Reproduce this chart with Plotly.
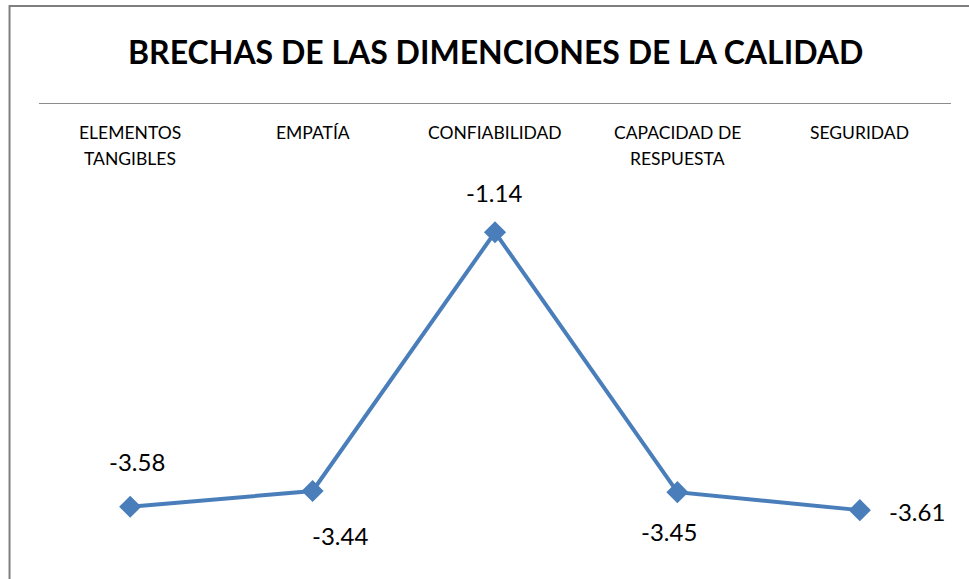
import plotly.graph_objects as go

categories = ["ELEMENTOS<br>TANGIBLES", "EMPATÍA", "CONFIABILIDAD", "CAPACIDAD DE<br>RESPUESTA", "SEGURIDAD"]
values = [-3.58, -3.44, -1.14, -3.45, -3.61]
title_text = "BRECHAS DE LAS DIMENCIONES DE LA CALIDAD"

# label placement (offsets in px) per point
label_dx = [7, 27, -1, -8, 57]
label_dy = [45, -44, 40, -39, -1]

FONT = "Lato"
BLUE = "#4A7EBB"

xs = list(range(len(categories)))

fig = go.Figure()
fig.add_trace(go.Scatter(
    x=xs, y=values, mode="lines+markers",
    line=dict(color=BLUE, width=4),
    marker=dict(symbol="diamond", size=17, color=BLUE),
    hoverinfo="skip", showlegend=False,
))

annotations = []
for i, v in enumerate(values):
    annotations.append(dict(
        x=xs[i], y=v, xref="x", yref="y", text=f"{v:.2f}",
        showarrow=False, xshift=label_dx[i], yshift=label_dy[i],
        font=dict(family=FONT, size=24, color="#000000"),
        xanchor="center", yanchor="middle",
    ))
for i, c in enumerate(categories):
    for j, line in enumerate(c.split("<br>")):
        annotations.append(dict(
            x=xs[i], y=0, xref="x", yref="y", text=line,
            showarrow=False, yshift=-28 - 26 * j, yanchor="middle", xanchor="center",
            font=dict(family=FONT, size=17.5, color="#000000"),
        ))
annotations.append(dict(
    x=0.5, y=(554 - 52) / 450, xref="paper", yref="paper", text=f"<b>{title_text}</b>",
    showarrow=False, yanchor="middle",
    font=dict(family=FONT, size=32, color="#000000"),
))

fig.update_layout(
    width=969, height=579,
    margin=dict(l=38.5, r=17.5, t=104, b=25),
    paper_bgcolor="white", plot_bgcolor="white",
    xaxis=dict(range=[-0.5, 4.5], side="top", showline=True, linecolor="#8C8C8C",
               linewidth=1, showgrid=False, zeroline=False, showticklabels=False,
               ticks=""),
    yaxis=dict(range=[-4, 0], visible=False, showgrid=False, zeroline=False),
    annotations=annotations,
    shapes=[dict(type="rect", xref="paper", yref="paper",
                 x0=(9 - 38.5) / 913, x1=1.1, y0=-0.2, y1=(554 - 6) / 450,
                 line=dict(color="#7F7F7F", width=2), fillcolor="rgba(0,0,0,0)")],
)

fig.write_html("out.html", config={"displayModeBar": False},
               post_script="document.body.style.margin='0';document.body.style.overflow='hidden';")
